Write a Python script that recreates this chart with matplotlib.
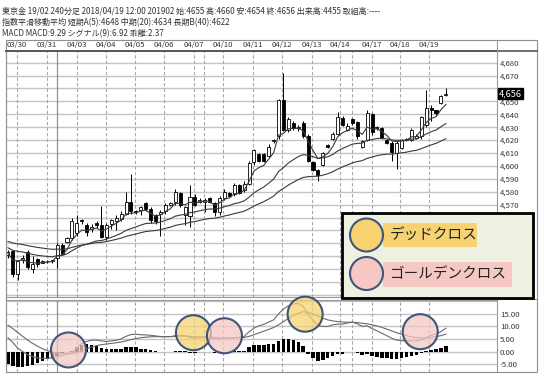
import matplotlib
matplotlib.use('Agg')
import matplotlib.pyplot as plt
import matplotlib.transforms as mtransforms
from matplotlib.patches import Rectangle, Circle
from matplotlib.ticker import FuncFormatter
import pandas as pd

plt.rcParams['font.family'] = ['Noto Sans CJK JP', 'DejaVu Sans']

header = [
    '東京金 19/02 240分足 2018/04/19 12:00 201902 始:4655 高:4660 安:4654 終:4656 出来高:4455 取組高:----',
    '指数平滑移動平均 短期A(5):4648 中期(20):4634 長期B(40):4622',
    'MACD MACD:9.29 シグナル(9):6.92 乖離:2.37',
]

date_labels = ['03/30', '03/31', '04/03', '04/04', '04/05', '04/06', '04/07', '04/10',
               '04/11', '04/12', '04/13', '04/14', '04/17', '04/18', '04/19']
date_pos = [1.8, 7.9, 14.0, 19.9, 25.8, 31.7, 37.8, 43.7, 49.8, 55.7, 61.8, 67.5, 74.0, 79.7, 85.6]
month_line = 10.0
extra_lines = [39.8, 69.9]

# 4時間足 OHLC
opens = [4531, 4534, 4516, 4527, 4533, 4520, 4528, 4525, 4526, 4526,
         4529, 4539, 4541, 4544, 4548, 4558, 4554, 4551, 4556, 4554,
         4545, 4555, 4557, 4559, 4563, 4572, 4565, 4566, 4571, 4567,
         4562, 4563, 4565, 4570, 4572, 4579, 4562, 4561, 4576, 4572,
         4572, 4575, 4571, 4564, 4575, 4579, 4578, 4585, 4581, 4586,
         4603, 4609, 4609, 4608, 4619, 4623, 4651, 4628, 4633, 4629,
         4633, 4623, 4603, 4597, 4601, 4616, 4621, 4625, 4637, 4628,
         4636, 4634, 4615, 4620, 4640, 4630, 4629, 4620, 4618, 4610,
         4614, 4620, 4620, 4622, 4623, 4632, 4645, 4643, 4649, 4655]
highs = [4535, 4535, 4527, 4531, 4535, 4530, 4529, 4527, 4527, 4527,
         4540, 4540, 4545, 4560, 4562, 4559, 4556, 4555, 4557, 4569,
         4556, 4559, 4562, 4565, 4580, 4594, 4566, 4569, 4572, 4568,
         4563, 4566, 4571, 4572, 4582, 4580, 4569, 4585, 4578, 4575,
         4575, 4576, 4572, 4577, 4582, 4580, 4587, 4586, 4588, 4604,
         4613, 4610, 4610, 4617, 4621, 4652, 4672, 4638, 4635, 4632,
         4635, 4625, 4604, 4598, 4611, 4617, 4626, 4642, 4639, 4633,
         4637, 4635, 4620, 4643, 4641, 4631, 4630, 4621, 4619, 4619,
         4621, 4622, 4629, 4625, 4639, 4659, 4647, 4643, 4655, 4660]
lows = [4529, 4514, 4512, 4525, 4520, 4517, 4522, 4525, 4525, 4525,
        4521, 4531, 4540, 4543, 4546, 4555, 4546, 4549, 4552, 4544,
        4543, 4551, 4550, 4557, 4562, 4563, 4563, 4562, 4565, 4556,
        4555, 4546, 4563, 4569, 4570, 4568, 4554, 4553, 4569, 4571,
        4564, 4571, 4561, 4562, 4574, 4576, 4577, 4578, 4580, 4585,
        4601, 4603, 4603, 4607, 4618, 4621, 4627, 4626, 4628, 4627,
        4622, 4603, 4596, 4588, 4600, 4614, 4620, 4624, 4631, 4627,
        4632, 4621, 4614, 4619, 4624, 4628, 4621, 4617, 4604, 4598,
        4613, 4619, 4619, 4621, 4621, 4630, 4635, 4639, 4648, 4654]
closes = [4533, 4516, 4526, 4529, 4522, 4524, 4524, 4526, 4526, 4527,
          4539, 4532, 4544, 4557, 4556, 4557, 4549, 4553, 4554, 4545,
          4554, 4558, 4560, 4563, 4572, 4565, 4564, 4568, 4567, 4558,
          4557, 4564, 4570, 4571, 4580, 4570, 4568, 4576, 4570, 4574,
          4574, 4572, 4564, 4575, 4580, 4577, 4585, 4579, 4586, 4602,
          4612, 4604, 4604, 4615, 4620, 4651, 4628, 4636, 4629, 4630,
          4623, 4604, 4597, 4593, 4610, 4615, 4625, 4638, 4632, 4631,
          4633, 4623, 4619, 4641, 4626, 4629, 4622, 4618, 4611, 4618,
          4620, 4621, 4628, 4623, 4638, 4645, 4643, 4641, 4654, 4656]

# 移動平均の左端の値（チャートから読み取り）
ema_seed = {5: 4532, 20: 4537, 40: 4542}
last_price = 4656

macd = [5.47, 3.60, 1.35, 0.05, -1.20, -1.90, -2.45, -2.60, -2.55, -2.43,
        -2.00, -1.50, -1.08, -0.40, 1.55, 3.25, 4.08, 4.55, 4.60, 4.28,
        4.03, 4.28, 4.53, 5.03, 6.08, 6.78, 6.90, 6.70, 6.63, 6.48,
        6.25, 5.95, 5.95, 5.95, 6.33, 6.40, 6.35, 5.65, 5.30, 5.53,
        5.83, 5.58, 5.03, 5.00, 5.25, 5.33, 5.55, 5.70, 6.00, 7.85,
        9.30, 10.20, 10.78, 11.70, 12.55, 14.93, 16.88, 18.13, 18.88, 19.03,
        17.98, 14.78, 12.46, 10.21, 10.01, 9.96, 10.56, 10.91, 10.91, 11.33,
        11.63, 11.01, 10.01, 10.21, 9.13, 8.26, 7.28, 6.33, 5.31, 4.58,
        4.36, 4.23, 4.21, 4.28, 4.71, 5.66, 6.46, 7.03, 7.93, 9.29]
hist = [-5.0, -5.5, -6.2, -6.0, -5.8, -5.2, -4.6, -3.8, -3.0, -2.3,
        -1.5, -0.8, -0.3, 0.3, 1.8, 2.8, 2.9, 2.7, 2.2, 1.5,
        1.0, 1.0, 1.0, 1.2, 1.8, 2.0, 1.7, 1.2, 0.9, 0.6,
        0.3, 0.0, 0.0, 0.0, 0.3, 0.3, 0.2, -0.4, -0.6, -0.3,
        0.0, -0.2, -0.6, -0.5, -0.2, -0.1, 0.1, 0.2, 0.4, 1.8,
        2.6, 2.8, 2.7, 2.9, 3.0, 4.3, 5.0, 5.0, 4.6, 3.8,
        2.2, -0.8, -2.5, -3.8, -3.2, -2.6, -1.6, -1.0, -0.8, -0.3,
        0.0, -0.5, -1.2, -0.8, -1.5, -1.9, -2.3, -2.6, -2.9, -2.9,
        -2.5, -2.1, -1.7, -1.3, -0.7, 0.2, 0.8, 1.1, 1.6, 2.37]

dead_cross = [(37.7, 7.5), (60.4, 14.8)]
golden_cross = [(12.3, 0.7), (44.0, 6.3), (83.8, 7.9)]
legend_labels = ['デッドクロス', 'ゴールデンクロス']

# 凡例・価格ボックスに隠れて見えない目盛ラベル
price_ticks = list(range(4500, 4690, 10))
price_hidden = set(range(4500, 4570, 10)) | {4660}
macd_ticks = [-5, 0, 5, 10, 15, 20]
macd_hidden = {20}

YELLOW = '#f6d270'
PINK = '#f5c8c3'
RING = '#3e5679'
GRID = '#c4c4c4'
TXT = '#333333'


def ema(vals, span, seed):
    s = pd.Series([seed] + list(vals), dtype=float)
    return s.ewm(span=span, adjust=False).mean().values[1:]


W, H = 544, 380
fig = plt.figure(figsize=(W / 100, H / 100), dpi=100)


def box(x0, y0, x1, y1):
    return [x0 / W, 1 - y1 / H, (x1 - x0) / W, (y1 - y0) / H]


ax = fig.add_axes(box(6, 51, 497, 297))
ax2 = fig.add_axes(box(6, 300, 497, 372), sharex=ax)
n = len(closes)
idx = list(range(n))

# ローソク足
for i in idx:
    o, h, l, c = opens[i], highs[i], lows[i], closes[i]
    ax.vlines(i, l, h, color='black', lw=0.7, zorder=3)
    body = max(abs(c - o), 0.5)
    ax.bar(i, body, bottom=min(o, c), width=0.62,
           color='white' if c >= o else 'black', edgecolor='black', lw=0.6, zorder=4)

for span in (5, 20, 40):
    ax.plot(idx, ema(closes, span, ema_seed[span]), color='#3a3a3a', lw=0.8, zorder=5)

ax.set_xlim(-0.4, 99.4)
ax.set_ylim(4498.5, 4689)
ax.set_yticks(price_ticks)
ax.yaxis.set_major_formatter(FuncFormatter(
    lambda v, p: '' if round(v) in price_hidden else f'{v:,.0f}'))
ax.yaxis.tick_right()
ax.tick_params(axis='y', length=0, pad=2, labelsize=5.6, colors=TXT)
ax.tick_params(axis='x', bottom=False, labelbottom=False)
ax.grid(axis='y', color=GRID, lw=1.0)
ax.set_axisbelow(True)

# MACD
signal = [m - h for m, h in zip(macd, hist)]
ax2.bar(idx, hist, width=0.7, color='black', zorder=3)
ax2.plot(idx, macd, color='#6a6a6a', lw=0.8, zorder=4)
ax2.plot(idx, signal, color='#6a6a6a', lw=0.8, zorder=4)
ax2.set_ylim(-8.0, 20.4)
ax2.set_yticks(macd_ticks)
ax2.yaxis.set_major_formatter(FuncFormatter(
    lambda v, p: '' if round(v) in macd_hidden else f'{v:.2f}'))
ax2.yaxis.tick_right()
ax2.tick_params(axis='y', length=0, pad=2, labelsize=5.6, colors=TXT)
ax2.tick_params(axis='x', bottom=False, labelbottom=False)
ax2.grid(axis='y', color=GRID, lw=1.0)
ax2.set_axisbelow(True)

for a in (ax, ax2):
    for x in date_pos + extra_lines:
        a.axvline(x, color='#a8a8a8', lw=0.8, ls=(0, (3, 2)), zorder=1)
    a.axvline(month_line, color='#909090', lw=0.9, zorder=1)
    for s in a.spines.values():
        s.set_color('#999999')
        s.set_linewidth(0.8)
ax.spines['top'].set_color('#555555')
ax.spines['top'].set_linewidth(1.2)

trans = mtransforms.blended_transform_factory(ax.transData, ax.transAxes)
for x, lab in zip(date_pos, date_labels):
    ax.text(x, 1 + 6.5 / 246, lab, transform=trans, ha='center', va='center',
            fontsize=5.6, color=TXT)

ax.annotate(f'{last_price:,}', xy=(1.0, last_price), xycoords=('axes fraction', 'data'),
            xytext=(1.5, 0), textcoords='offset points', ha='left', va='center',
            fontsize=6.6, color='white',
            bbox=dict(boxstyle='square,pad=0.15', fc='black', ec='black'))

# ピクセル座標の重ね描き
ov = fig.add_axes([0, 0, 1, 1], zorder=10)
ov.set_xlim(0, W)
ov.set_ylim(H, 0)
ov.axis('off')
ov.patch.set_alpha(0)

ov.add_patch(Rectangle((6, 40), 531, 332, fill=False, ec='#909090', lw=0.8))
ov.plot([6, 537], [51, 51], color='#555555', lw=1.2)
ov.plot([497, 497], [40, 51], color='#999999', lw=0.8)
ov.plot([497, 537], [298.5, 298.5], color='#999999', lw=0.8)

for k, line in enumerate(header):
    ov.text(2, 11 + k * 11.5, line, fontsize=5.8, color=TXT, ha='left', va='center')


def ring(x, y, fc, r=17.5, alpha=0.75):
    dx, dy = ax2.transData.transform((x, y))
    ov.add_patch(Circle((dx, H - dy), r, fc=matplotlib.colors.to_rgba(fc, alpha),
                        ec=RING, lw=1.5, zorder=5))


for x, y in dead_cross:
    ring(x, y, YELLOW)
for x, y in golden_cross:
    ring(x, y, PINK)

# 凡例
ov.add_patch(Rectangle((342, 213), 191, 85, fc='#eef0e2', ec='black', lw=2, zorder=6))
ov.add_patch(Rectangle((383, 223), 94, 24, fc=YELLOW, ec='none', zorder=7))
ov.add_patch(Rectangle((383, 262), 129, 25, fc=PINK, ec='none', zorder=7))
ov.add_patch(Circle((366.5, 235), 16.5, fc=YELLOW, ec=RING, lw=1.5, zorder=8))
ov.add_patch(Circle((366.5, 273.5), 16.5, fc=PINK, ec=RING, lw=1.5, zorder=8))
ov.text(390, 235, legend_labels[0], fontsize=10.5, color='#222222', va='center', zorder=9)
ov.text(390, 274.5, legend_labels[1], fontsize=10.5, color='#222222', va='center', zorder=9)

fig.savefig('out.png', dpi=100)
